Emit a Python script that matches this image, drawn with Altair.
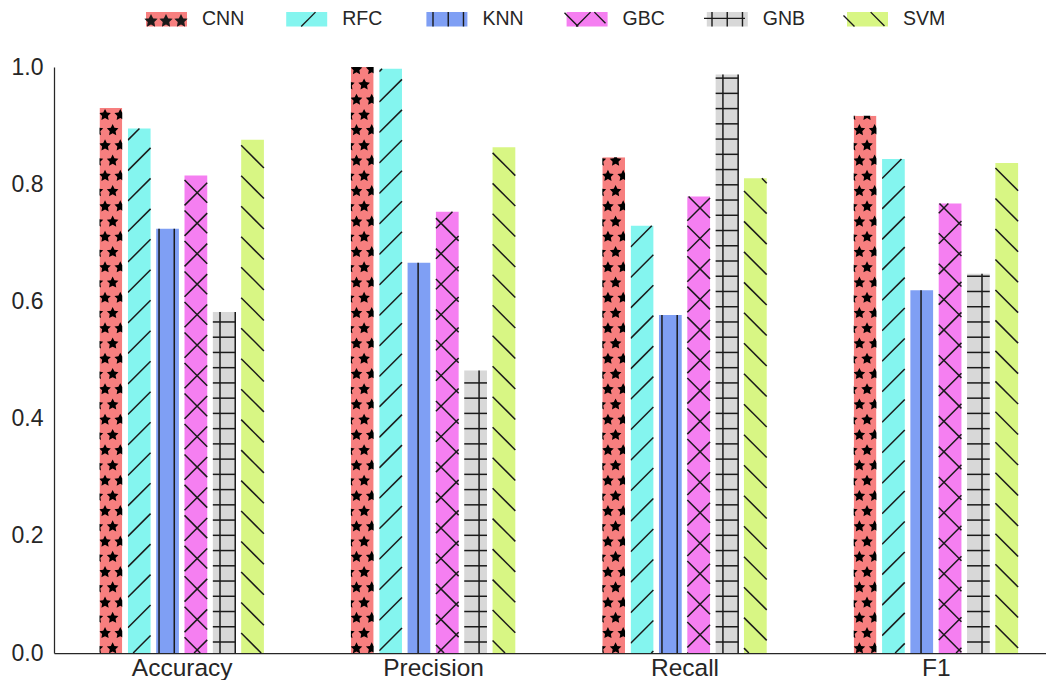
import math
import pandas as pd
import altair as alt

# ---------------- data ----------------
metrics = ["Accuracy", "Precision", "Recall", "F1"]
models = ["CNN", "RFC", "KNN", "GBC", "GNB", "SVM"]
colors = ["#F77F7F", "#84F5EF", "#7F9FF4", "#F57FF1", "#D8D8D8", "#D8F684"]
hatches = ["*", "/", "|", "x", "+", "\\"]

cnn_scores = [0.930, 1.000, 0.846, 0.917]
rfc_scores = [0.895, 0.997, 0.729, 0.843]
knn_scores = [0.724, 0.666, 0.577, 0.619]
gbc_scores = [0.815, 0.753, 0.779, 0.767]
gnb_scores = [0.582, 0.482, 0.987, 0.647]
svm_scores = [0.876, 0.863, 0.810, 0.836]
scores = [cnn_scores, rfc_scores, knn_scores, gbc_scores, gnb_scores, svm_scores]

y_ticks = [0.0, 0.2, 0.4, 0.6, 0.8, 1.0]

# ---------------- layout / style ----------------
W, H = 992, 586
PX_PER_GROUP = 251.4
X0 = -0.508
X_DOMAIN = [X0, X0 + W / PX_PER_GROUP]
BAR_STEP = 0.1127
BAR_HALF = 0.0452
SX = PX_PER_GROUP                      # px per x unit
SY = H                                 # px per y unit
PERIOD = 15.24                         # hatch period (px)
PH_NE, PH_NW, PH_V, PH_H = 12.3, 24.3, 13.6, 11.0
PH_SX, PH_SY = 5.3, 4.6
STAR_SIZE = 150
STAR_R = math.sqrt(STAR_SIZE) / 2
MASK_W = 10.0
INK = "#1a1a1a"
TXT = "#262626"
FONT = "Liberation Sans"


def to_px(xd):
    return (xd - X_DOMAIN[0]) * SX


def to_dx(px):
    return X_DOMAIN[0] + px / SX


def ne_lines(L, R, B, T, phase, period):  # y - x = c
    out = []
    c = phase + math.ceil(((B - R) - phase) / period) * period
    while c <= T - L:
        x1, x2 = max(L, B - c), min(R, T - c)
        if x2 - x1 > 0.5:
            out.append((x1, x1 + c, x2, x2 + c))
        c += period
    return out


def nw_lines(L, R, B, T, phase, period):  # y + x = c
    out = []
    c = phase + math.ceil(((L + B) - phase) / period) * period
    while c <= R + T:
        x1, x2 = max(L, c - T), min(R, c - B)
        if x2 - x1 > 0.5:
            out.append((x1, c - x1, x2, c - x2))
        c += period
    return out


def v_lines(L, R, B, T, phase, period):
    out = []
    x = phase + math.ceil((L - phase) / period) * period
    while x <= R:
        out.append((x, B, x, T))
        x += period
    return out


def h_lines(L, R, B, T, phase, period):
    out = []
    y = phase + math.ceil((B - phase) / period) * period
    while y <= T:
        out.append((L, y, R, y))
        y += period
    return out


def star_centers(xmin, xmax, B, T, phx, phy, period, margin):
    out = []
    k = math.ceil((B - phy) / period)
    while phy + k * period <= T + margin:
        y = phy + k * period
        off = phx if k % 2 == 1 else phx + period / 2
        x = off + math.ceil((xmin - off) / period) * period
        while x <= xmax:
            out.append((x, y))
            x += period
        k += 1
    return out


# ---------------- tables ----------------
bar_rows, seg_rows, star_rows, mask_rows = [], [], [], []
gap_px = (BAR_STEP - 2 * BAR_HALF) * SX
for j, m in enumerate(models):
    for i, met in enumerate(metrics):
        c = i + (j - 2.5) * BAR_STEP
        v = scores[j][i]
        x_lo, x_hi = c - BAR_HALF, c + BAR_HALF
        bar_rows.append(dict(metric=met, model=m, j=j, value=v,
                             x_lo=x_lo, x_hi=x_hi, y0=0.0))
        L, R, T = to_px(x_lo), to_px(x_hi), v * SY
        h = hatches[j]
        segs = []
        if h in ("/", "x"):
            segs += ne_lines(L, R, 0, T, PH_NE, 2 * PERIOD)
        if h in ("\\", "x"):
            segs += nw_lines(L, R, 0, T, PH_NW, 2 * PERIOD)
        if h in ("|", "+"):
            segs += v_lines(L, R, 0, T, PH_V, PERIOD)
        if h == "+":
            segs += h_lines(L, R, 0, T, PH_H, PERIOD)
        for (a, b, cc, d) in segs:
            seg_rows.append(dict(model=m, x1=to_dx(a), y1=b / SY,
                                 x2=to_dx(cc), y2=d / SY))
        if h == "*":
            xmin = L - (MASK_W - STAR_R)
            xmax = R + (gap_px - STAR_R)
            for (sx, sy) in star_centers(xmin, xmax, 0, T, PH_SX, PH_SY,
                                         PERIOD, STAR_R):
                star_rows.append(dict(model=m, sx=to_dx(sx), sy=sy / SY))
            mask_rows.append(dict(mx1=x_lo - MASK_W / SX, mx2=x_lo, my1=0.0, my2=1.0))
            mask_rows.append(dict(mx1=x_hi, mx2=x_hi + gap_px / SX, my1=0.0, my2=1.0))
            mask_rows.append(dict(mx1=x_lo - MASK_W / SX, mx2=x_hi, my1=v, my2=1.0))

bars = pd.DataFrame(bar_rows)
segs_df = pd.DataFrame(seg_rows)
stars_df = pd.DataFrame(star_rows)
masks_df = pd.DataFrame(mask_rows)

# ---------------- legend symbol paths ----------------
SW_W, SW_H = 41.0, 14.3
SW_SCALE = SW_W / 2.0
RECT_PATH = f"M-1,{-SW_H / 2 / SW_SCALE:.4f}H1V{SW_H / 2 / SW_SCALE:.4f}H-1Z"


def star_poly(cx, cy, r):
    pts = []
    for k in range(10):
        ang = math.radians(-90 + 36 * k)
        rr = r if k % 2 == 0 else r * 0.5
        pts.append((cx + rr * math.cos(ang), cy + rr * math.sin(ang)))
    return "M" + "L".join(f"{x:.4f},{y:.4f}" for x, y in pts) + "Z"


STAR_PATH = star_poly(0, 0, 1.0)


def sw_u(x, y):
    return ((x - SW_W / 2) / SW_SCALE, (SW_H / 2 - y) / SW_SCALE)


def legend_path(h):
    segs, parts = [], []
    if h == "*":
        for sx in (5.0, 20.0, 35.0):
            ux, uy = sw_u(sx, 5.4)
            parts.append(star_poly(ux, uy, 5.4 / SW_SCALE))
    if h == "/":
        segs += ne_lines(0, SW_W, 0, SW_H, -15.7, 2 * PERIOD)
    if h == "x":
        segs += ne_lines(0, SW_W, 0, SW_H, -11.7, 2 * PERIOD)
        segs += nw_lines(0, SW_W, 0, SW_H, 13.7, 2 * PERIOD)
    if h == "\\":
        segs += nw_lines(0, SW_W, 0, SW_H, 11.0, 2 * PERIOD)
    if h in ("|", "+"):
        segs += v_lines(0, SW_W, 0, SW_H, 8.0, PERIOD)
    if h == "+":
        segs += h_lines(0, SW_W, 0, SW_H, 8.0, PERIOD)
    for (a, b, c, d) in segs:
        ax, ay = sw_u(a, b)
        cx, cy = sw_u(c, d)
        parts.append(f"M{ax:.4f},{ay:.4f}L{cx:.4f},{cy:.4f}")
    hy = SW_H / 2 / SW_SCALE
    parts.append(f"M-1,{-hy:.4f}L-1,{-hy:.4f}M1,{hy:.4f}L1,{hy:.4f}")
    return "".join(parts)


legend_paths = [legend_path(h) for h in hatches]

# ---------------- chart ----------------
x_scale = alt.Scale(domain=X_DOMAIN, nice=False, zero=False)
y_scale = alt.Scale(domain=[0, 1], nice=False, zero=False)
label_expr = "[" + ",".join(f"'{m}'" for m in metrics) + "][datum.value]"
x_axis = alt.Axis(values=list(range(len(metrics))), labelExpr=label_expr,
                  ticks=False, grid=False, domainColor=TXT, domainWidth=1.25,
                  labelFontSize=24.5, labelColor=TXT, labelFont=FONT,
                  labelPadding=3, labelFlush=False, title=None, zindex=1)
y_axis = alt.Axis(values=y_ticks, format=".1f", ticks=False, grid=False,
                  domainColor=TXT, domainWidth=1.25, labelFontSize=23,
                  labelColor=TXT, labelFont=FONT, labelPadding=11,
                  title=None, zindex=1)

LEG_STROKE = 1.4
legend_common = dict(orient="none", legendX=91, legendY=-69.5,
                     direction="horizontal", columns=6, title=None,
                     symbolSize=SW_W ** 2, symbolStrokeWidth=LEG_STROKE,
                     labelFont=FONT, labelFontSize=19.5, labelColor=TXT,
                     labelOffset=14, gridAlign="all", symbolOpacity=1)

bar_layer = alt.Chart(bars).mark_bar().encode(
    x=alt.X("x_lo:Q", scale=x_scale, axis=x_axis),
    x2="x_hi:Q",
    y=alt.Y("value:Q", scale=y_scale, axis=y_axis),
    y2="y0:Q",
    color=alt.Color("model:N", scale=alt.Scale(domain=models, range=colors),
                    legend=alt.Legend(symbolType=RECT_PATH,
                                      symbolStrokeColor="transparent",
                                      columnPadding=38.2, zindex=0,
                                      **legend_common)),
)

rule_layer = alt.Chart(segs_df).mark_rule(color=INK, strokeWidth=1.5).encode(
    x=alt.X("x1:Q", scale=x_scale, axis=x_axis),
    x2="x2:Q",
    y=alt.Y("y1:Q", scale=y_scale, axis=y_axis),
    y2="y2:Q",
)

star_layer = alt.Chart(stars_df).mark_point(
    shape=STAR_PATH, filled=True, fill="#000000", strokeWidth=0,
    size=STAR_SIZE, opacity=1, clip=True
).encode(
    x=alt.X("sx:Q", scale=x_scale, axis=x_axis),
    y=alt.Y("sy:Q", scale=y_scale, axis=y_axis),
)

mask_layer = alt.Chart(masks_df).mark_rect(fill="white").encode(
    x=alt.X("mx1:Q", scale=x_scale, axis=x_axis),
    x2="mx2:Q",
    y=alt.Y("my1:Q", scale=y_scale, axis=y_axis),
    y2="my2:Q",
)

hatch_legend_layer = alt.Chart(bars).transform_filter(
    "datum.value > 2"
).mark_point(filled=True, fill=INK, stroke=INK, strokeWidth=LEG_STROKE,
             opacity=1).encode(
    x=alt.X("x_lo:Q", scale=x_scale, axis=x_axis),
    y=alt.Y("value:Q", scale=y_scale, axis=y_axis),
    shape=alt.Shape("j:O", scale=alt.Scale(domain=list(range(len(models))),
                                           range=legend_paths),
                    legend=alt.Legend(labelExpr="''", columnPadding=80.5,
                                      zindex=1, **legend_common)),
)

chart = alt.layer(
    bar_layer, rule_layer, star_layer, mask_layer, hatch_legend_layer
).properties(
    width=W, height=H,
    background="white",
    autosize=alt.AutoSizeParams(type="none"),
    padding={"left": 46, "top": 59, "right": 0, "bottom": 27},
).configure_view(stroke=None)

chart.save("out.html", embed_options={"renderer": "svg", "actions": False})
